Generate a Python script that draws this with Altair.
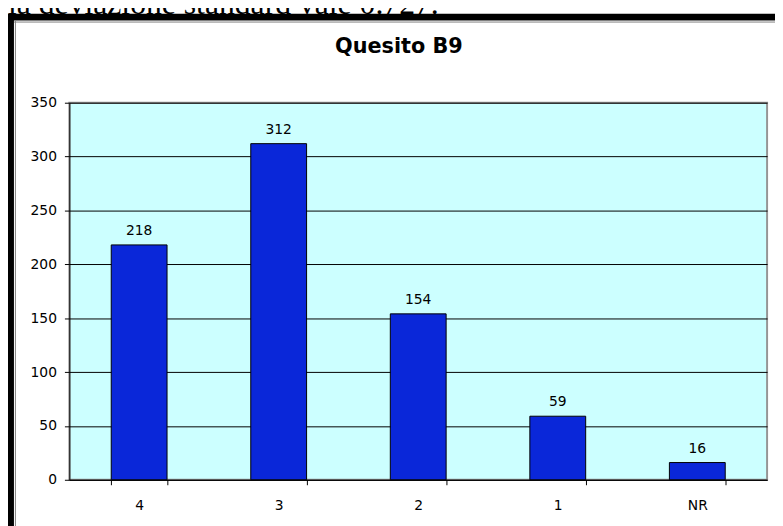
import altair as alt
import pandas as pd

# ---- data ----
categories = ["4", "3", "2", "1", "NR"]
counts = [218, 312, 154, 59, 16]
y_ticks = [0, 50, 100, 150, 200, 250, 300, 350]
chart_title = "Quesito B9"
header_text = "la deviazione standard vale 0.727."

df = pd.DataFrame({"risposta": categories, "n": counts})

W, H = 705, 381
PL, PT, PR, PB = 62, 93, 8, 44
FONT = "DejaVu Sans"

x_enc = alt.X(
    "risposta:N", sort=categories, title=None,
    scale=alt.Scale(paddingInner=0.6, paddingOuter=0.3),
    axis=alt.Axis(labelAngle=0, tickBand="extent", grid=False,
                  domainColor="black", tickColor="black", tickSize=5,
                  labelPadding=14, labelFont=FONT, labelFontSize=14,
                  labelColor="black"),
)
y_enc = alt.Y(
    "n:Q", title=None,
    scale=alt.Scale(domain=[0, 350], nice=False),
    axis=alt.Axis(values=y_ticks, grid=True, gridColor="black",
                  domainColor="black", tickColor="black", tickSize=5,
                  labelPadding=8, labelFont=FONT, labelFontSize=14,
                  labelColor="black"),
)

bars = alt.Chart(df).mark_bar(color="#0A27D9", stroke="black", strokeWidth=1).encode(
    x=x_enc, y=y_enc
)
labels = alt.Chart(df).mark_text(
    baseline="alphabetic", dy=-10, font=FONT, fontSize=14, color="black"
).encode(x=alt.X("risposta:N", sort=categories), y="n:Q", text="n:Q")

one = pd.DataFrame({"k": [1]})
title_df = pd.DataFrame({"t": [chart_title]})
header_df = pd.DataFrame({"t": [header_text]})

title_mark = alt.Chart(title_df).mark_text(
    font=FONT, fontWeight="bold", fontSize=21, baseline="alphabetic", align="center", color="black"
).encode(x=alt.value(333), y=alt.value(-50), text="t:N")

header_mark = alt.Chart(header_df).mark_text(
    font="Liberation Serif", fontSize=32,
    baseline="alphabetic", align="left", color="black"
).encode(x=alt.value(-62), y=alt.value(-90), text="t:N")

top_black = alt.Chart(one).mark_rule(color="black", strokeWidth=7).encode(
    x=alt.value(-63), x2=alt.value(W + PR + 10), y=alt.value(-86.5)
)
top_gray = alt.Chart(one).mark_rule(color="#808080", strokeWidth=1).encode(
    x=alt.value(-56), x2=alt.value(W + PR + 10), y=alt.value(-81.5)
)
left_black = alt.Chart(one).mark_rule(color="black", strokeWidth=7).encode(
    x=alt.value(-59.5), y=alt.value(-90), y2=alt.value(H + PB + 10)
)
left_gray = alt.Chart(one).mark_rule(color="#808080", strokeWidth=1).encode(
    x=alt.value(-54.5), y=alt.value(-83), y2=alt.value(H + PB + 10)
)

chart = alt.layer(
    bars, labels, title_mark, header_mark, top_black, top_gray, left_black, left_gray
).properties(
    width=W, height=H,
    padding={"left": PL, "top": PT, "right": PR, "bottom": PB},
    autosize=alt.AutoSizeParams(type="none"),
    background="white",
).configure_view(fill="#CCFFFF", stroke="#959595", strokeWidth=2)

chart.save("out.html", embed_options={"renderer": "svg", "actions": False})
